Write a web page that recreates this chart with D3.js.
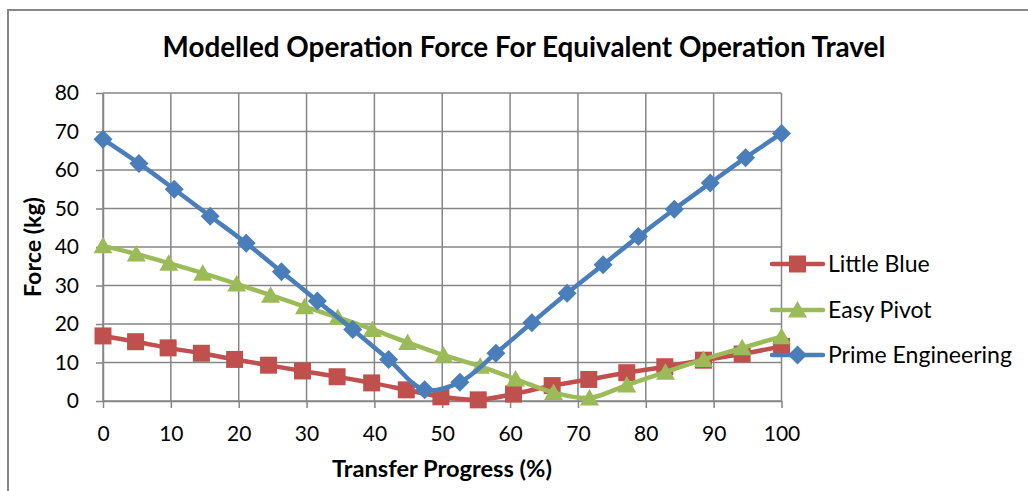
<!DOCTYPE html>
<html>
<head>
<meta charset="utf-8">
<script src="https://cdn.jsdelivr.net/npm/d3@7"></script>
<style>
  html, body { margin: 0; padding: 0; background: #fff; }
  svg { display: block; font-family: Lato, "Open Sans", sans-serif; }
</style>
</head>
<body>
<svg id="chart" width="1028" height="491"></svg>
<script>
// ---- data ----
const seriesNames = ["Little Blue", "Easy Pivot", "Prime Engineering"];

const littleBlueX = [0, 4.8, 9.6, 14.5, 19.4, 24.4, 29.4, 34.5, 39.6, 44.7, 49.8, 55.3, 60.5, 66.2, 71.6, 77.2, 82.8, 88.5, 94.2, 100];
const littleBlueY = [16.9, 15.4, 13.8, 12.4, 10.8, 9.3, 7.8, 6.3, 4.7, 2.9, 1.1, 0.3, 1.8, 4.0, 5.6, 7.35, 8.9, 10.6, 12.2, 14.2];

const easyPivotX = [0, 4.9, 9.7, 14.7, 19.7, 24.7, 29.7, 34.6, 39.7, 44.9, 50.2, 55.6, 60.8, 66.4, 71.7, 77.2, 82.9, 88.5, 94.2, 100];
const easyPivotY = [40.3, 38.2, 35.8, 33.2, 30.4, 27.5, 24.5, 21.7, 18.6, 15.2, 11.9, 9.0, 5.7, 2.2, 0.8, 4.15, 7.5, 10.8, 13.8, 16.7];

const primeEngX = [0, 5.3, 10.5, 15.8, 21.1, 26.3, 31.6, 36.8, 42.1, 47.4, 52.6, 57.9, 63.2, 68.4, 73.7, 78.9, 84.2, 89.5, 94.7, 100];
const primeEngY = [68.0, 61.7, 55.0, 48.0, 41.0, 33.6, 26.0, 18.6, 10.8, 2.9, 4.9, 12.4, 20.3, 28.0, 35.4, 42.7, 49.8, 56.6, 63.2, 69.5];

const xTicks = [0, 10, 20, 30, 40, 50, 60, 70, 80, 90, 100];
const yTicks = [0, 10, 20, 30, 40, 50, 60, 70, 80];

const titleText = "Modelled Operation Force For Equivalent Operation Travel";
const xTitle = "Transfer Progress (%)";
const yTitle = "Force (kg)";

// ---- styling / layout ----
const colors = ["#C0504D", "#9BBB59", "#4A7EBB"];
const markerTypes = ["square", "triangle", "diamond"];
const gridColor = "#868686";

const svg = d3.select("#chart");
const plot = { left: 103, right: 781.5, top: 93, bottom: 401 };

const x = d3.scaleLinear().domain([0, 100]).range([plot.left, plot.right]);
const y = d3.scaleLinear().domain([0, 80]).range([plot.bottom, plot.top]);

// outer chart border (extends past the visible frame on right/bottom)
svg.append("rect")
  .attr("x", 8).attr("y", 10).attr("width", 1100).attr("height", 600)
  .attr("fill", "none").attr("stroke", gridColor).attr("stroke-width", 2);

function fitWidth(sel, target) {
  const w = sel.node().getComputedTextLength();
  const fs = parseFloat(sel.attr("font-size"));
  sel.attr("font-size", fs * target / w);
}

// title
const t = svg.append("text")
  .attr("x", 524).attr("y", 57)
  .attr("text-anchor", "middle")
  .attr("font-weight", "bold")
  .attr("font-size", 22)
  .attr("fill", "#000")
  .text(titleText);
fitWidth(t, 723);

// gridlines
const grid = svg.append("g");
grid.selectAll("line.h").data(yTicks).join("line")
  .attr("x1", plot.left).attr("x2", plot.right)
  .attr("y1", d => y(d)).attr("y2", d => y(d))
  .attr("stroke", gridColor).attr("stroke-width", 1.5);
grid.selectAll("line.v").data(xTicks).join("line")
  .attr("y1", plot.top).attr("y2", plot.bottom)
  .attr("x1", d => x(d)).attr("x2", d => x(d))
  .attr("stroke", gridColor).attr("stroke-width", 1.5);

// axes
const xAxis = svg.append("g")
  .attr("transform", `translate(0,${plot.bottom})`)
  .call(d3.axisBottom(x).tickValues(xTicks).tickSize(7).tickPadding(18).tickSizeOuter(0));
const yAxis = svg.append("g")
  .attr("transform", `translate(${plot.left},0)`)
  .call(d3.axisLeft(y).tickValues(yTicks).tickSize(7).tickPadding(17).tickSizeOuter(0));
[xAxis, yAxis].forEach(a => {
  a.select(".domain").attr("stroke", gridColor).attr("stroke-width", 1.5);
  a.selectAll(".tick line").attr("stroke", gridColor).attr("stroke-width", 1.5);
  a.selectAll(".tick text").attr("font-size", 21).attr("fill", "#000")
    .attr("font-family", "Lato, sans-serif");
});

// axis titles
const xt = svg.append("text")
  .attr("x", 442).attr("y", 477)
  .attr("text-anchor", "middle").attr("font-weight", "bold")
  .attr("font-size", 19).attr("fill", "#000").text(xTitle);
fitWidth(xt, 220);
const yt = svg.append("text")
  .attr("transform", "translate(41,247) rotate(-90)")
  .attr("text-anchor", "middle").attr("font-weight", "bold")
  .attr("font-size", 19).attr("fill", "#000").text(yTitle);
fitWidth(yt, 100);

// marker paths
function markerPath(type) {
  if (type === "square") return "M-8.5,-8.5H8.5V8.5H-8.5Z";
  if (type === "triangle") return "M0,-9L9.5,7.5H-9.5Z";
  return "M0,-9.5L9.5,0L0,9.5L-9.5,0Z";
}

const series = [
  { name: seriesNames[0], xs: littleBlueX, ys: littleBlueY },
  { name: seriesNames[1], xs: easyPivotX, ys: easyPivotY },
  { name: seriesNames[2], xs: primeEngX, ys: primeEngY }
];

const line = d3.line()
  .x(d => x(d[0])).y(d => y(d[1]))
  .curve(d3.curveCatmullRom.alpha(0.5));

series.forEach((s, i) => {
  const pts = s.xs.map((v, j) => [v, s.ys[j]]);
  const g = svg.append("g");
  g.append("path").datum(pts)
    .attr("d", line)
    .attr("fill", "none")
    .attr("stroke", colors[i])
    .attr("stroke-width", 4.5)
    .attr("stroke-linejoin", "round");
  g.selectAll("path.m").data(pts).join("path")
    .attr("class", "m")
    .attr("d", markerPath(markerTypes[i]))
    .attr("transform", d => `translate(${x(d[0])},${y(d[1])})`)
    .attr("fill", colors[i]);
});

// legend
const legendRows = [264, 310, 355];
const lg = svg.append("g");
const legendTexts = [];
series.forEach((s, i) => {
  const yy = legendRows[i];
  lg.append("line")
    .attr("x1", 772).attr("x2", 823).attr("y1", yy).attr("y2", yy)
    .attr("stroke", colors[i]).attr("stroke-width", 4.5).attr("stroke-linecap", "round");
  lg.append("path")
    .attr("d", markerPath(markerTypes[i]))
    .attr("transform", `translate(797.5,${yy})`)
    .attr("fill", colors[i]);
  legendTexts.push(lg.append("text")
    .attr("x", 828).attr("y", yy).attr("dy", "0.35em")
    .attr("font-size", 21).attr("fill", "#000")
    .text(s.name));
});
// size legend text so "Prime Engineering" matches the reference width
const pe = legendTexts[2];
const w0 = pe.node().getComputedTextLength();
const fsLegend = 21 * 184 / w0;
legendTexts.forEach(tx => tx.attr("font-size", fsLegend));
</script>
</body>
</html>
